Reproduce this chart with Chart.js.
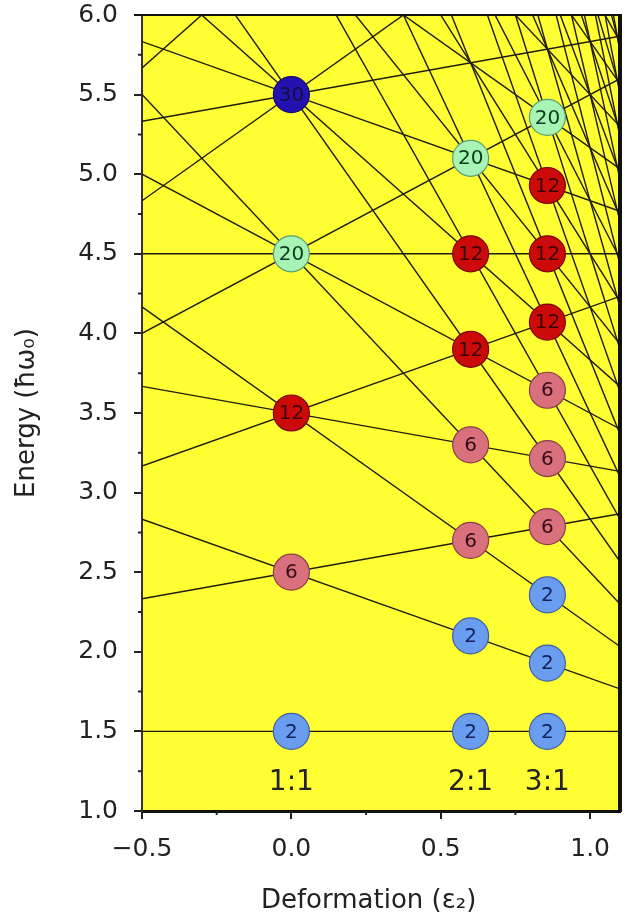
<!DOCTYPE html>
<html>
<head>
<meta charset="utf-8">
<script src="https://cdn.jsdelivr.net/npm/chart.js@4/dist/chart.umd.min.js"></script>
<style>
  html, body { margin: 0; padding: 0; background: #ffffff; }
  #wrap { width: 625px; height: 923px; position: relative; }
</style>
</head>
<body>
<div id="wrap"><canvas id="c" width="625" height="923"></canvas></div>
<script>
// ---- Data ----
// Deformation values where each level line starts and ends
const lineEps = [-0.5, 1.1];
// Energy of each level line at the left end (eps = -0.5)
const lineLeftE = [1.5, 2.833, 2.333, 4.167, 3.667, 3.167, 5.5, 5.0, 4.5, 4.0,
  6.833, 6.333, 5.833, 5.333, 4.833, 8.167, 7.667, 7.167, 5.667, 9.5, 9.0, 8.5,
  10.833, 10.333, 9.833, 12.167, 11.667, 11.167, 13.5, 13.0, 14.833, 14.333,
  16.167, 15.667, 17.5, 17.0, 18.833, 20.167, 21.5, 22.833];
// Energy of each level line at the right end (eps = 1.1)
const lineRightE = [1.5, 1.767, 2.867, 2.033, 3.133, 4.233, 2.3, 3.4, 4.5, 5.6,
  2.567, 3.667, 4.767, 5.867, 6.967, 2.833, 3.933, 5.033, 8.333, 3.1, 4.2, 5.3,
  3.367, 4.467, 5.567, 3.633, 4.733, 5.833, 3.9, 5.0, 4.167, 5.267,
  4.433, 5.533, 4.7, 5.8, 4.967, 5.233, 5.5, 5.767];

// Shell circles (degenerate levels)
const circleEps = [0, 0, 0, 0, 0,
  0.6, 0.6, 0.6, 0.6, 0.6, 0.6, 0.6,
  0.857, 0.857, 0.857, 0.857, 0.857, 0.857, 0.857, 0.857, 0.857, 0.857];
const circleE = [1.5, 2.5, 3.5, 4.5, 5.5,
  1.5, 2.1, 2.7, 3.3, 3.9, 4.5, 5.1,
  1.5, 1.929, 2.357, 2.786, 3.214, 3.643, 4.071, 4.5, 4.929, 5.357];
const circleN = [2, 6, 12, 20, 30,
  2, 2, 6, 6, 12, 12, 20,
  2, 2, 2, 6, 6, 6, 12, 12, 12, 20];

// Axis-ratio labels
const ratioText = ['1:1', '2:1', '3:1'];
const ratioEps = [0, 0.6, 0.857];
const ratioE = 1.19;

// Ticks
const xTicks = [-0.5, 0.0, 0.5, 1.0];
const xMinor = [-0.25, 0.25, 0.75];
const yTicks = [1.0, 1.5, 2.0, 2.5, 3.0, 3.5, 4.0, 4.5, 5.0, 5.5, 6.0];
const yMinor = [1.25, 1.75, 2.25, 2.75, 3.25, 3.75, 4.25, 4.75, 5.25, 5.75];

// ---- Styles ----
const fillByN = { 2: '#6a9cf0', 6: '#d8707e', 12: '#cc0a0a', 20: '#a8f3b6', 30: '#2412b0' };
const edgeByN = { 2: '#3c5fa8', 6: '#8a3e48', 12: '#7a0606', 20: '#5aa070', 30: '#140a70' };
const textByN = { 2: '#15205a', 6: '#3a0c18', 12: '#3a0000', 20: '#0c3a1c', 30: '#101040' };
const FONT = 'DejaVu Sans';

const datasets = [];
datasets.push({
  type: 'scatter',
  label: 'shells',
  order: -1,
  data: circleEps.map((x, i) => ({ x: x, y: circleE[i] })),
  pointRadius: 18,
  pointHoverRadius: 18,
  pointBackgroundColor: circleN.map(n => fillByN[n]),
  pointBorderColor: circleN.map(n => edgeByN[n]),
  pointBorderWidth: 1.2,
  clip: false
});
lineLeftE.forEach((yl, i) => {
  datasets.push({
    type: 'line',
    label: 'level ' + i,
    data: [{ x: lineEps[0], y: yl }, { x: lineEps[1], y: lineRightE[i] }],
    borderColor: '#1e1c0c',
    borderWidth: 1.4,
    pointRadius: 0,
    fill: false,
    tension: 0
  });
});

const decor = {
  id: 'decor',
  beforeDraw(chart) {
    const { ctx, chartArea: a } = chart;
    ctx.save();
    ctx.fillStyle = '#ffff33';
    ctx.fillRect(a.left, a.top, a.right - a.left, a.bottom - a.top);
    ctx.restore();
  },
  afterDatasetsDraw(chart) {
    const { ctx, chartArea: a, scales } = chart;
    const xs = scales.x, ys = scales.y;
    ctx.save();
    // circle labels
    ctx.textAlign = 'center';
    ctx.textBaseline = 'middle';
    ctx.font = '20px "' + FONT + '"';
    circleEps.forEach((x, i) => {
      ctx.fillStyle = textByN[circleN[i]];
      ctx.fillText(String(circleN[i]), xs.getPixelForValue(x), ys.getPixelForValue(circleE[i]) + 1);
    });
    // ratio labels
    ctx.font = '28px "' + FONT + '"';
    ctx.fillStyle = '#222222';
    ratioText.forEach((t, i) => {
      ctx.fillText(t, xs.getPixelForValue(ratioEps[i]), ys.getPixelForValue(ratioE) + 2);
    });
    // frame: top and thick right edge
    ctx.strokeStyle = '#111111';
    ctx.lineWidth = 2;
    ctx.beginPath();
    ctx.moveTo(a.left - 8, a.top);
    ctx.lineTo(a.right, a.top);
    ctx.stroke();
    ctx.lineWidth = 4;
    ctx.beginPath();
    ctx.moveTo(a.right, a.top - 1);
    ctx.lineTo(a.right, a.bottom + 1);
    ctx.stroke();
    // minor ticks
    ctx.lineWidth = 2;
    ctx.strokeStyle = '#222222';
    ctx.beginPath();
    xMinor.forEach(v => {
      const px = xs.getPixelForValue(v);
      ctx.moveTo(px, a.bottom);
      ctx.lineTo(px, a.bottom + 4);
    });
    yMinor.forEach(v => {
      const py = ys.getPixelForValue(v);
      ctx.moveTo(a.left, py);
      ctx.lineTo(a.left - 4, py);
    });
    ctx.stroke();
    ctx.restore();
  }
};

new Chart(document.getElementById('c'), {
  data: { datasets: datasets },
  options: {
    responsive: false,
    animation: false,
    events: [],
    layout: { autoPadding: false, padding: { top: 15, right: 5, left: 0, bottom: 0 } },
    plugins: { legend: { display: false }, tooltip: { enabled: false } },
    scales: {
      x: {
        type: 'linear',
        min: -0.5,
        max: 1.1,
        afterBuildTicks: s => { s.ticks = xTicks.map(v => ({ value: v })); },
        afterFit: s => { s.height = 112; s.paddingLeft = 0; s.paddingRight = 0; },
        grid: { drawOnChartArea: false, drawTicks: true, tickLength: 8, color: '#222222', lineWidth: 2 },
        border: { display: true, color: '#111111', width: 3 },
        ticks: {
          color: '#222222',
          font: { family: FONT, size: 25 },
          padding: 15,
          maxRotation: 0,
          callback: v => (v < 0 ? '\u2212' + Math.abs(v).toFixed(1) : v.toFixed(1))
        },
        title: {
          display: true,
          text: 'Deformation (\u03b5\u2082)   ',
          color: '#222222',
          font: { family: FONT, size: 26 },
          padding: { top: 0, bottom: 6 }
        }
      },
      y: {
        type: 'linear',
        min: 1.0,
        max: 6.0,
        afterBuildTicks: s => { s.ticks = yTicks.map(v => ({ value: v })); },
        afterFit: s => { s.width = 142; s.paddingTop = 0; s.paddingBottom = 0; },
        grid: { drawOnChartArea: false, drawTicks: true, tickLength: 8, color: '#222222', lineWidth: 2 },
        border: { display: true, color: '#333322', width: 2 },
        ticks: {
          color: '#222222',
          font: { family: FONT, size: 25 },
          padding: 16,
          callback: v => v.toFixed(1)
        },
        title: {
          display: true,
          text: 'Energy (\u0127\u03c9\u2080)',
          color: '#222222',
          font: { family: FONT, size: 26 },
          padding: { top: 12, bottom: 0 }
        }
      }
    }
  },
  plugins: [decor]
});
</script>
</body>
</html>
